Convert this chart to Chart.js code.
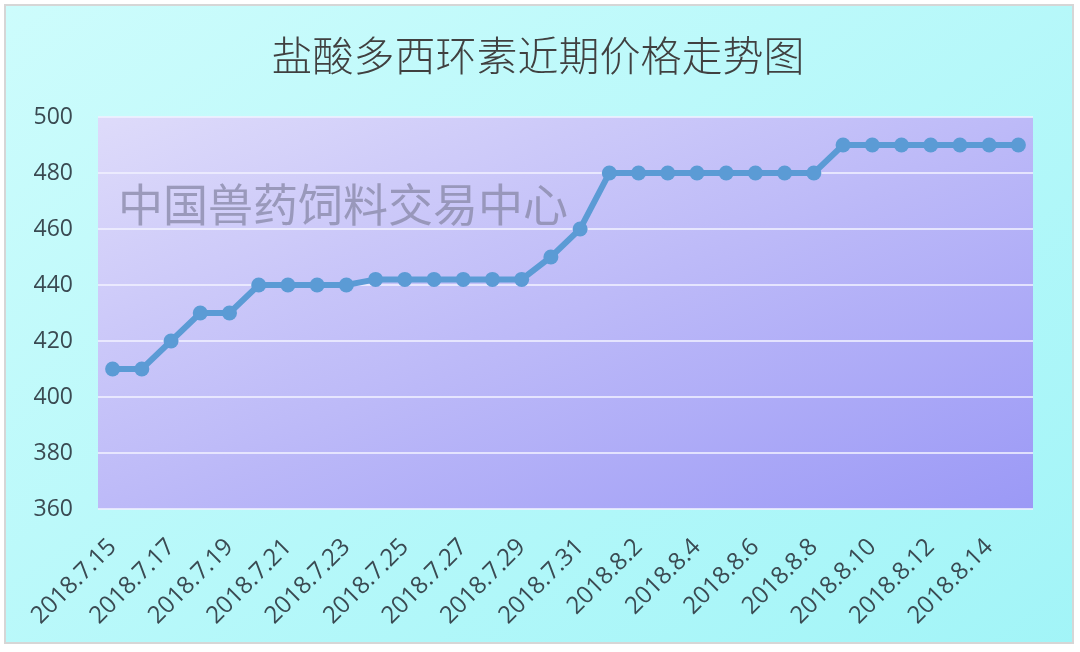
<!DOCTYPE html>
<html>
<head>
<meta charset="utf-8">
<script src="https://cdn.jsdelivr.net/npm/chart.js@4/dist/chart.umd.min.js"></script>
<style>
  html, body { margin: 0; padding: 0; background: #ffffff; }
  #wrap { width: 1080px; height: 652px; position: relative; }
</style>
</head>
<body>
<div id="wrap"><canvas id="c" width="1080" height="652"></canvas></div>
<script>
const titleText = '盐酸多西环素近期价格走势图';
const watermarkText = '中国兽药饲料交易中心';
const dates = [
  '2018.7.15','2018.7.16','2018.7.17','2018.7.18','2018.7.19','2018.7.20','2018.7.21','2018.7.22',
  '2018.7.23','2018.7.24','2018.7.25','2018.7.26','2018.7.27','2018.7.28','2018.7.29','2018.7.30',
  '2018.7.31','2018.8.1','2018.8.2','2018.8.3','2018.8.4','2018.8.5','2018.8.6','2018.8.7',
  '2018.8.8','2018.8.9','2018.8.10','2018.8.11','2018.8.12','2018.8.13','2018.8.14','2018.8.15'
];
const prices = [
  410,410,420,430,430,440,440,440,
  440,442,442,442,442,442,442,450,
  460,480,480,480,480,480,480,480,
  480,490,490,490,490,490,490,490
];
const yMin = 360, yMax = 500, yStep = 20;

const bgPlugin = {
  id: 'bg',
  beforeDraw(chart) {
    const ctx = chart.ctx;
    const W = chart.width, H = chart.height;
    ctx.save();
    ctx.fillStyle = '#ffffff';
    ctx.fillRect(0, 0, W, H);
    const g = ctx.createLinearGradient(5, 5, 700, 1000);
    g.addColorStop(0, '#cdfcfc');
    g.addColorStop(1, '#9ff4f7');
    ctx.fillStyle = g;
    ctx.fillRect(5, 5, 1068, 638);
    ctx.strokeStyle = '#d6d6d6';
    ctx.lineWidth = 2;
    ctx.strokeRect(5, 5, 1068, 638);
    const a = chart.chartArea;
    const w = a.right - a.left, h = a.bottom - a.top;
    const cx = (a.left + a.right) / 2, cy = (a.top + a.bottom) / 2;
    const L2 = w * w + h * h, k = w * h / L2;
    const g2 = ctx.createLinearGradient(cx - h * k, cy - w * k, cx + h * k, cy + w * k);
    g2.addColorStop(0, '#dedbfa');
    g2.addColorStop(0.5, '#bdbaf8');
    g2.addColorStop(1, '#9b99f6');
    ctx.fillStyle = g2;
    ctx.fillRect(a.left, a.top, w, h);
    // title
    ctx.font = '300 41px "Noto Sans CJK SC"';
    ctx.fillStyle = '#404040';
    ctx.textAlign = 'center';
    ctx.textBaseline = 'middle';
    ctx.fillText(titleText, 538, 55);
    ctx.restore();
  },
  beforeDatasetsDraw(chart) {
    const ctx = chart.ctx;
    ctx.save();
    ctx.font = '45px "Noto Sans CJK SC"';
    ctx.fillStyle = 'rgba(135,135,165,0.75)';
    ctx.textAlign = 'left';
    ctx.textBaseline = 'middle';
    ctx.fillText(watermarkText, 118, 205);
    ctx.restore();
  }
};

new Chart(document.getElementById('c'), {
  type: 'line',
  data: {
    labels: dates,
    datasets: [{
      data: prices,
      borderColor: '#5b9bd5',
      backgroundColor: '#5b9bd5',
      borderWidth: 6,
      pointRadius: 7.5,
      pointBackgroundColor: '#5b9bd5',
      pointBorderColor: '#5b9bd5',
      pointBorderWidth: 0,
      tension: 0,
      fill: false
    }]
  },
  options: {
    responsive: false,
    animation: false,
    devicePixelRatio: 1,
    layout: { padding: { left: 0, right: 47, top: 117, bottom: 0 } },
    plugins: {
      legend: { display: false },
      tooltip: { enabled: false },
      title: { display: false }
    },
    scales: {
      x: {
        offset: true,
        grid: { display: false, drawTicks: false },
        border: { display: false },
        afterFit(s) { s.height = 652 - 509; },
        ticks: {
          autoSkip: false,
          maxRotation: 45,
          minRotation: 45,
          padding: 24,
          color: '#3a4a52',
          font: { family: '"Open Sans"', size: 24 },
          callback(v, i) { return i % 2 === 0 ? dates[i] : ''; }
        }
      },
      y: {
        min: yMin,
        max: yMax,
        grid: { color: 'rgba(240,240,255,0.8)', lineWidth: 2, drawTicks: false },
        border: { display: false },
        afterFit(s) { s.width = 98; },
        ticks: {
          stepSize: yStep,
          padding: 25,
          color: '#3a4a52',
          font: { family: '"Open Sans"', size: 23 }
        }
      }
    }
  },
  plugins: [bgPlugin]
});
</script>
</body>
</html>
